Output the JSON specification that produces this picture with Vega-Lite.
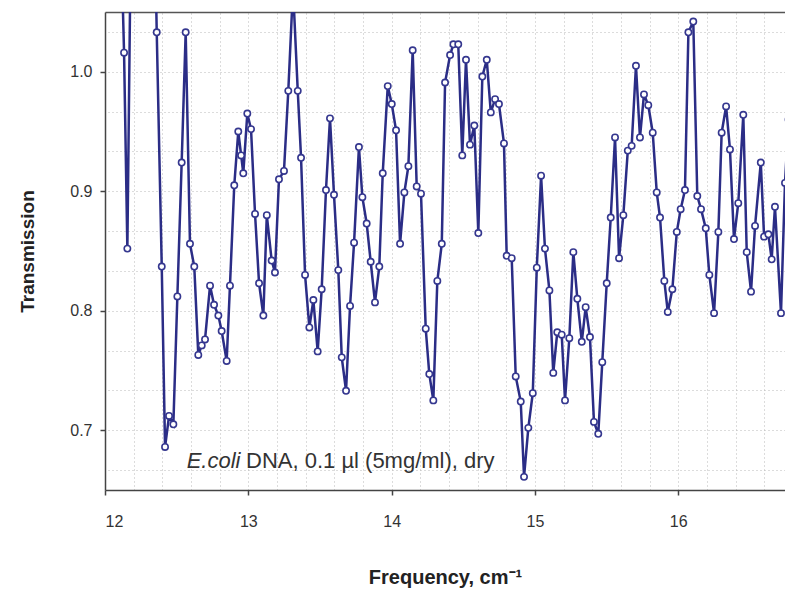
{
  "$schema": "https://vega.github.io/schema/vega-lite/v6.json",
  "width": 680,
  "height": 478,
  "autosize": {"type": "none"},
  "padding": {"left": 105, "top": 12, "right": 0, "bottom": 102},
  "background": "white",
  "config": {"view": {"stroke": null}, "font": "Liberation Sans"},
  "data": {"values": [
    {"f": 12.11, "t": 1.12}, {"f": 12.133, "t": 1.016}, {"f": 12.156, "t": 0.852}, {"f": 12.188, "t": 1.2}, {"f": 12.335, "t": 1.2},
    {"f": 12.361, "t": 1.033}, {"f": 12.396, "t": 0.837}, {"f": 12.419, "t": 0.686}, {"f": 12.447, "t": 0.712}, {"f": 12.477, "t": 0.705},
    {"f": 12.505, "t": 0.812}, {"f": 12.535, "t": 0.924}, {"f": 12.563, "t": 1.033}, {"f": 12.593, "t": 0.856}, {"f": 12.623, "t": 0.837},
    {"f": 12.651, "t": 0.763}, {"f": 12.675, "t": 0.771}, {"f": 12.698, "t": 0.776}, {"f": 12.733, "t": 0.821}, {"f": 12.761, "t": 0.805},
    {"f": 12.791, "t": 0.796}, {"f": 12.814, "t": 0.783}, {"f": 12.849, "t": 0.758}, {"f": 12.872, "t": 0.821}, {"f": 12.902, "t": 0.905},
    {"f": 12.930, "t": 0.950}, {"f": 12.950, "t": 0.930}, {"f": 12.965, "t": 0.915}, {"f": 12.993, "t": 0.965}, {"f": 13.019, "t": 0.952},
    {"f": 13.047, "t": 0.881}, {"f": 13.075, "t": 0.823}, {"f": 13.105, "t": 0.796}, {"f": 13.129, "t": 0.880}, {"f": 13.163, "t": 0.842},
    {"f": 13.186, "t": 0.832}, {"f": 13.214, "t": 0.910}, {"f": 13.249, "t": 0.917}, {"f": 13.279, "t": 0.984}, {"f": 13.312, "t": 1.07},
    {"f": 13.345, "t": 0.984}, {"f": 13.368, "t": 0.928}, {"f": 13.396, "t": 0.830}, {"f": 13.426, "t": 0.786}, {"f": 13.454, "t": 0.809},
    {"f": 13.484, "t": 0.766}, {"f": 13.512, "t": 0.818}, {"f": 13.542, "t": 0.901}, {"f": 13.570, "t": 0.961}, {"f": 13.598, "t": 0.897},
    {"f": 13.628, "t": 0.834}, {"f": 13.652, "t": 0.761}, {"f": 13.682, "t": 0.733}, {"f": 13.710, "t": 0.804}, {"f": 13.738, "t": 0.857},
    {"f": 13.772, "t": 0.937}, {"f": 13.796, "t": 0.895}, {"f": 13.826, "t": 0.873}, {"f": 13.854, "t": 0.841}, {"f": 13.884, "t": 0.807},
    {"f": 13.914, "t": 0.837}, {"f": 13.938, "t": 0.915}, {"f": 13.973, "t": 0.988}, {"f": 14.001, "t": 0.973}, {"f": 14.031, "t": 0.951},
    {"f": 14.059, "t": 0.856}, {"f": 14.089, "t": 0.899}, {"f": 14.117, "t": 0.921}, {"f": 14.147, "t": 1.018}, {"f": 14.175, "t": 0.904},
    {"f": 14.205, "t": 0.898}, {"f": 14.238, "t": 0.785}, {"f": 14.263, "t": 0.747}, {"f": 14.291, "t": 0.725}, {"f": 14.319, "t": 0.825},
    {"f": 14.350, "t": 0.856}, {"f": 14.373, "t": 0.991}, {"f": 14.408, "t": 1.014}, {"f": 14.431, "t": 1.023}, {"f": 14.465, "t": 1.023},
    {"f": 14.493, "t": 0.930}, {"f": 14.519, "t": 1.010}, {"f": 14.547, "t": 0.939}, {"f": 14.577, "t": 0.955}, {"f": 14.605, "t": 0.865},
    {"f": 14.633, "t": 0.996}, {"f": 14.664, "t": 1.010}, {"f": 14.692, "t": 0.966}, {"f": 14.722, "t": 0.977}, {"f": 14.749, "t": 0.973},
    {"f": 14.784, "t": 0.940}, {"f": 14.803, "t": 0.846}, {"f": 14.838, "t": 0.844}, {"f": 14.866, "t": 0.745}, {"f": 14.901, "t": 0.724},
    {"f": 14.924, "t": 0.661}, {"f": 14.954, "t": 0.702}, {"f": 14.985, "t": 0.731}, {"f": 15.013, "t": 0.836}, {"f": 15.043, "t": 0.913},
    {"f": 15.070, "t": 0.852}, {"f": 15.101, "t": 0.817}, {"f": 15.128, "t": 0.748}, {"f": 15.156, "t": 0.782}, {"f": 15.187, "t": 0.780},
    {"f": 15.210, "t": 0.725}, {"f": 15.240, "t": 0.777}, {"f": 15.268, "t": 0.849}, {"f": 15.296, "t": 0.810}, {"f": 15.327, "t": 0.774},
    {"f": 15.354, "t": 0.803}, {"f": 15.384, "t": 0.778}, {"f": 15.412, "t": 0.707}, {"f": 15.442, "t": 0.697}, {"f": 15.470, "t": 0.757},
    {"f": 15.501, "t": 0.823}, {"f": 15.529, "t": 0.878}, {"f": 15.559, "t": 0.945}, {"f": 15.587, "t": 0.844}, {"f": 15.617, "t": 0.880},
    {"f": 15.648, "t": 0.934}, {"f": 15.675, "t": 0.938}, {"f": 15.705, "t": 1.005}, {"f": 15.733, "t": 0.945}, {"f": 15.761, "t": 0.981},
    {"f": 15.791, "t": 0.972}, {"f": 15.822, "t": 0.949}, {"f": 15.850, "t": 0.899}, {"f": 15.873, "t": 0.878}, {"f": 15.903, "t": 0.825},
    {"f": 15.927, "t": 0.799}, {"f": 15.959, "t": 0.818}, {"f": 15.990, "t": 0.866}, {"f": 16.017, "t": 0.885}, {"f": 16.047, "t": 0.901},
    {"f": 16.071, "t": 1.033}, {"f": 16.105, "t": 1.042}, {"f": 16.133, "t": 0.896}, {"f": 16.159, "t": 0.885}, {"f": 16.192, "t": 0.869},
    {"f": 16.217, "t": 0.830}, {"f": 16.250, "t": 0.798}, {"f": 16.280, "t": 0.866}, {"f": 16.303, "t": 0.949}, {"f": 16.334, "t": 0.971},
    {"f": 16.361, "t": 0.935}, {"f": 16.389, "t": 0.860}, {"f": 16.419, "t": 0.890}, {"f": 16.454, "t": 0.964}, {"f": 16.478, "t": 0.849},
    {"f": 16.508, "t": 0.816}, {"f": 16.536, "t": 0.871}, {"f": 16.576, "t": 0.924}, {"f": 16.599, "t": 0.862}, {"f": 16.629, "t": 0.864},
    {"f": 16.652, "t": 0.843}, {"f": 16.675, "t": 0.887}, {"f": 16.717, "t": 0.798}, {"f": 16.745, "t": 0.907}, {"f": 16.77, "t": 0.96}
  ]},
  "resolve": {"axis": {"x": "independent", "y": "independent"}},
  "layer": [
    {
      "mark": {"type": "line", "clip": true, "color": "#2b2d86", "strokeWidth": 2.5},
      "encoding": {
        "x": {"field": "f", "type": "quantitative",
          "scale": {"domain": [12, 16.745], "nice": false, "zero": false},
          "axis": {"orient": "bottom", "values": [12, 13, 14, 15, 16], "format": "d", "grid": false,
            "domainColor": "#444", "domainWidth": 1.5, "tickColor": "#444", "tickSize": 5, "tickWidth": 1.5,
            "labelFontSize": 16, "labelColor": "#333", "labelPadding": 18,
            "title": "Frequency, cm⁻¹", "titleFontSize": 20, "titleFontWeight": "bold", "titleColor": "#222", "titlePadding": 38}},
        "y": {"field": "t", "type": "quantitative",
          "scale": {"domain": [0.65, 1.05], "nice": false, "zero": false},
          "axis": {"orient": "left", "values": [0.7, 0.8, 0.9, 1.0], "format": ".1f", "grid": false,
            "domainColor": "#444", "domainWidth": 1.5, "tickColor": "#444", "tickSize": 5, "tickWidth": 1.5,
            "labelFontSize": 16, "labelColor": "#333", "labelPadding": 8,
            "title": "Transmission", "titleFontSize": 19, "titleFontWeight": "bold", "titleColor": "#222", "titlePadding": 32}}
      }
    },
    {
      "mark": {"type": "point", "clip": true, "filled": true, "fill": "white", "stroke": "#35378f", "strokeWidth": 1.6, "size": 40, "opacity": 1},
      "encoding": {
        "x": {"field": "f", "type": "quantitative",
          "axis": {"orient": "top", "values": [12.2, 12.4, 12.6, 12.8, 13, 13.2, 13.4, 13.6, 13.8, 14, 14.2, 14.4, 14.6, 14.8, 15, 15.2, 15.4, 15.6, 15.8, 16, 16.2, 16.4, 16.6],
            "labels": false, "ticks": false, "domain": true, "domainColor": "#555", "domainWidth": 1.5,
            "grid": true, "gridColor": "#b8b8b8", "gridDash": [1, 3], "gridWidth": 1, "title": null}},
        "y": {"field": "t", "type": "quantitative",
          "axis": {"orient": "right", "values": [0.6667, 0.7, 0.7333, 0.7667, 0.8, 0.8333, 0.8667, 0.9, 0.9333, 0.9667, 1.0, 1.0333],
            "labels": false, "ticks": false, "domain": false,
            "grid": true, "gridColor": "#b8b8b8", "gridDash": [1, 3], "gridWidth": 1, "title": null}}
      }
    },
    {
      "data": {"values": [{}]},
      "mark": {"type": "text", "text": "E.coli", "align": "left", "baseline": "alphabetic", "fontSize": 22, "fontStyle": "italic", "color": "#333"},
      "encoding": {
        "x": {"datum": 12.57, "type": "quantitative", "axis": null},
        "y": {"datum": 0.668, "type": "quantitative", "axis": null}
      }
    },
    {
      "data": {"values": [{}]},
      "mark": {"type": "text", "text": "DNA, 0.1 µl (5mg/ml), dry", "align": "left", "baseline": "alphabetic", "fontSize": 22, "color": "#333"},
      "encoding": {
        "x": {"datum": 12.984, "type": "quantitative", "axis": null},
        "y": {"datum": 0.668, "type": "quantitative", "axis": null}
      }
    }
  ]
}
